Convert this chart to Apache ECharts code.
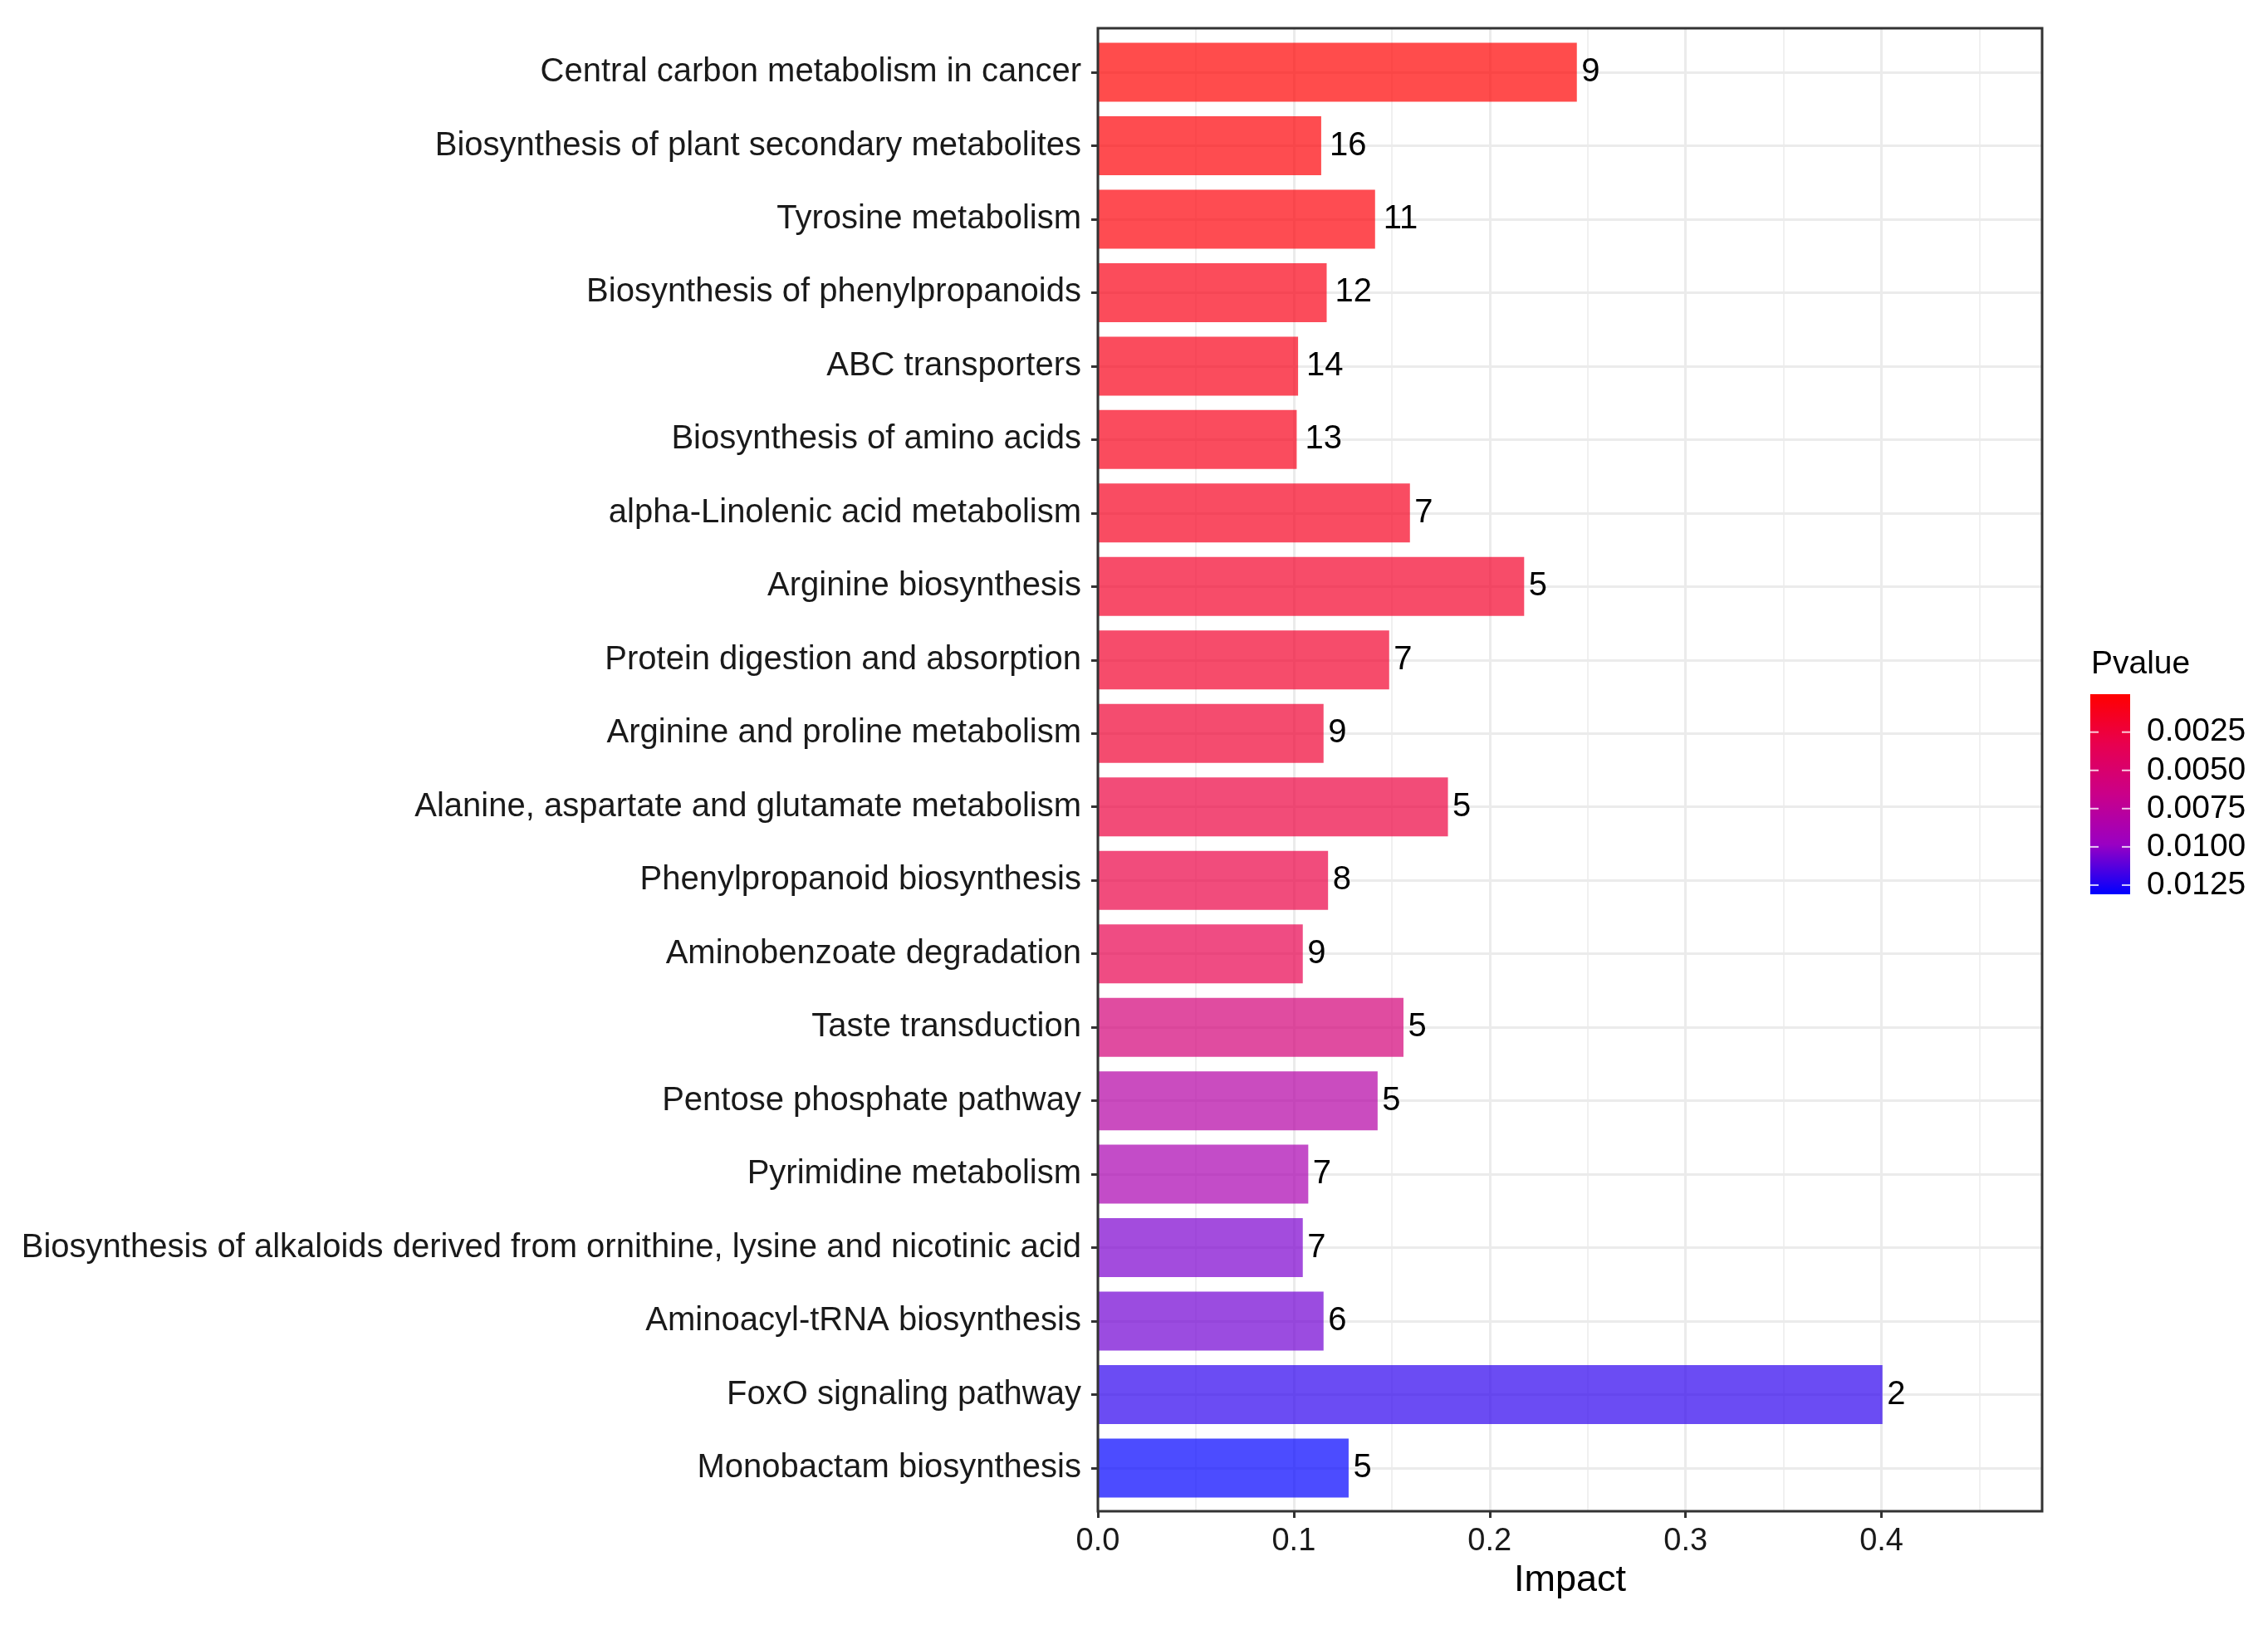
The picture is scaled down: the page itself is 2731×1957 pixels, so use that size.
<!DOCTYPE html>
<html>
<head>
<meta charset="utf-8">
<title>Pathway impact</title>
<script src="https://cdn.jsdelivr.net/npm/echarts@6/dist/echarts.min.js"></script>
<style>
  html, body { margin: 0; padding: 0; background: #fff; }
  #chart { width: 2731px; height: 1957px; }
</style>
</head>
<body>
<div id="chart"></div>
<script>
// pathways, top to bottom
var pathways = [
    'Central carbon metabolism in cancer',
    'Biosynthesis of plant secondary metabolites',
    'Tyrosine metabolism',
    'Biosynthesis of phenylpropanoids',
    'ABC transporters',
    'Biosynthesis of amino acids',
    'alpha-Linolenic acid metabolism',
    'Arginine biosynthesis',
    'Protein digestion and absorption',
    'Arginine and proline metabolism',
    'Alanine, aspartate and glutamate metabolism',
    'Phenylpropanoid biosynthesis',
    'Aminobenzoate degradation',
    'Taste transduction',
    'Pentose phosphate pathway',
    'Pyrimidine metabolism',
    'Biosynthesis of alkaloids derived from ornithine, lysine and nicotinic acid',
    'Aminoacyl-tRNA biosynthesis',
    'FoxO signaling pathway',
    'Monobactam biosynthesis'
];
var impact = [0.2445, 0.114, 0.1415, 0.1168, 0.1022, 0.1015, 0.1593, 0.2176, 0.1487, 0.1152,
              0.1787, 0.1175, 0.1046, 0.156, 0.1428, 0.1074, 0.1046, 0.1152, 0.4005, 0.128];
var hits = [9, 16, 11, 12, 14, 13, 7, 5, 7, 9, 5, 8, 9, 5, 5, 7, 7, 6, 2, 5];
var pvalue = [0.00002, 0.00028, 0.00035, 0.00093, 0.00100, 0.00106, 0.00133, 0.00172, 0.00185, 0.00211,
              0.00263, 0.00289, 0.00328, 0.00560, 0.00810, 0.00877, 0.01046, 0.01072, 0.01216, 0.01310];

var impactTicks = [0, 0.1, 0.2, 0.3, 0.4];
var legendTicks = [0.0025, 0.0050, 0.0075, 0.0100, 0.0125];
var pMin = 0.00002, pMax = 0.0131;
var ramp = ['#FF0000', '#E8004F', '#CA0089', '#9A00C3', '#0000FF'];

var FONT = '"Liberation Sans", Arial, Helvetica, sans-serif';

// panel layout (px)
var plotLeft = 1322, plotTop = 34, plotW = 1137, plotH = 1786;
var xMax = 0.482;
var rowFirst = 87, rowLast = 1768;
var barLeft = 2517, barTop = 836, barW = 48, barH = 241;

var chart = echarts.init(document.getElementById('chart'));

// label gap grows with text width, like hjust in ggplot
var data = pathways.map(function (name, i) {
    return {
        value: [impact[i], name, pvalue[i], hits[i]],
        label: { distance: 1 + 4.5 * String(hits[i]).length }
    };
});

// colour bar legend
var legendEls = [];
legendEls.push({
    type: 'text', z: 100,
    style: { text: 'Pvalue', x: barLeft + 1, y: 800, fontSize: 39, fontFamily: FONT,
             fill: '#000', align: 'left', verticalAlign: 'middle' }
});
legendEls.push({
    type: 'rect', z: 100,
    shape: { x: barLeft, y: barTop, width: barW, height: barH },
    style: {
        fill: new echarts.graphic.LinearGradient(0, 0, 0, 1, ramp.map(function (c, i) {
            return { offset: i / (ramp.length - 1), color: c };
        }))
    }
});
legendTicks.forEach(function (v) {
    var y = barTop + (v - pMin) / (pMax - pMin) * barH;
    legendEls.push({ type: 'line', z: 101, shape: { x1: barLeft, y1: y, x2: barLeft + 10, y2: y },
                     style: { stroke: 'rgba(255,255,255,0.8)', lineWidth: 2 } });
    legendEls.push({ type: 'line', z: 101, shape: { x1: barLeft + barW - 10, y1: y, x2: barLeft + barW, y2: y },
                     style: { stroke: 'rgba(255,255,255,0.8)', lineWidth: 2 } });
    legendEls.push({
        type: 'text', z: 100,
        style: { text: v.toFixed(4), x: 2585, y: y, fontSize: 39, fontFamily: FONT,
                 fill: '#000', align: 'left', verticalAlign: 'middle' }
    });
});

var option = {
    backgroundColor: '#fff',
    animation: false,
    textStyle: { fontFamily: FONT },
    grid: [
        { left: plotLeft, top: plotTop, width: plotW, height: plotH, outerBoundsMode: 'none' },
        { left: plotLeft, top: rowFirst, width: plotW, height: rowLast - rowFirst, outerBoundsMode: 'none' }
    ],
    xAxis: [
        {
            gridIndex: 0, type: 'value', min: 0, max: xMax, interval: 0.05, position: 'bottom',
            axisLine: { show: false }, axisTick: { show: false }, axisLabel: { show: false },
            splitLine: { show: true, lineStyle: { color: '#EBEBEB', width: 1.5 } }
        },
        {
            gridIndex: 0, type: 'value', min: 0, max: xMax, interval: 0.1, position: 'bottom',
            axisLine: { show: false },
            axisTick: { show: true, length: 8, customValues: impactTicks,
                        lineStyle: { color: '#333', width: 3 } },
            axisLabel: { fontSize: 38, margin: 18, color: '#1a1a1a', fontFamily: FONT,
                         customValues: impactTicks,
                         formatter: function (v) { return v.toFixed(1); } },
            splitLine: { show: true, lineStyle: { color: '#EBEBEB', width: 3 } },
            name: 'Impact', nameLocation: 'middle', nameGap: 57,
            nameTextStyle: { fontSize: 45, color: '#000', fontFamily: FONT }
        },
        { gridIndex: 1, type: 'value', min: 0, max: xMax, show: false }
    ],
    yAxis: [
        { gridIndex: 0, type: 'value', show: false, splitLine: { show: false } },
        {
            gridIndex: 1, type: 'category', data: pathways, inverse: true, boundaryGap: false,
            axisLine: { show: false },
            axisTick: { show: true, length: 8, interval: 0, lineStyle: { color: '#333', width: 3 } },
            axisLabel: { fontSize: 40, margin: 20, color: '#1a1a1a', interval: 0, fontFamily: FONT },
            splitLine: { show: true, interval: 0, lineStyle: { color: '#EBEBEB', width: 3 } }
        }
    ],
    visualMap: {
        type: 'continuous', show: false, seriesIndex: 0, dimension: 2,
        min: pMin, max: pMax, inRange: { color: ramp, colorAlpha: 0.7 }
    },
    series: [{
        type: 'bar',
        xAxisIndex: 2, yAxisIndex: 1,
        data: data,
        encode: { x: 0, y: 1 },
        barWidth: 71,
        clip: false,
        label: {
            show: true, position: 'right',
            fontSize: 40, color: '#000', fontFamily: FONT,
            formatter: function (p) { return p.value[3]; }
        }
    }],
    graphic: [{
        type: 'rect', z: 100,
        shape: { x: plotLeft, y: plotTop, width: plotW, height: plotH },
        style: { fill: 'none', stroke: '#333', lineWidth: 3 }
    }].concat(legendEls)
};

chart.setOption(option);
</script>
</body>
</html>
